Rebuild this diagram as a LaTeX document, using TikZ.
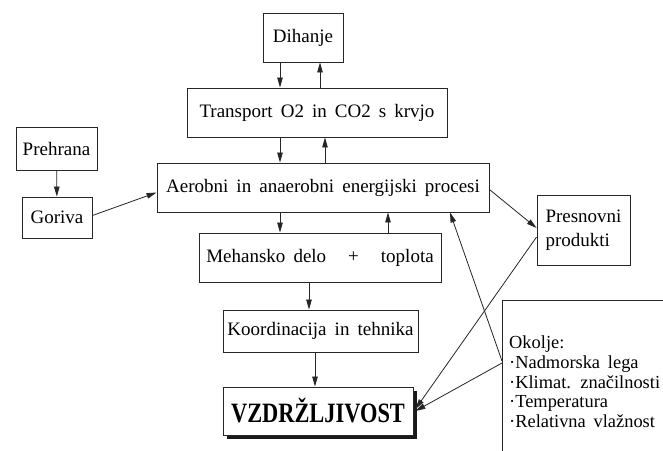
\documentclass[tikz,border=0pt]{standalone}
\usepackage{fontspec}
\setmainfont{Liberation Serif}[WordSpace=1.7]
\newfontfamily\titlefont{Liberation Serif}[FakeStretch=0.8]
\usetikzlibrary{arrows.meta,shadows,calc}

\begin{document}
\begin{tikzpicture}[x=1pt,y=-1pt,
  box/.style={draw=black!85, line width=0.9pt, fill=white, inner sep=0pt,
              font=\fontsize{19}{22}\selectfont},
  arr/.style={draw=black!85, line width=0.8pt, -{Triangle[length=10pt,width=5.5pt]}},
]
\fill[white] (0,0) rectangle (663,450);
\useasboundingbox (0,0) rectangle (663,450);
\clip (0,0) rectangle (663,450);

% boxes
\node[box, minimum width=80pt,  minimum height=49pt] (dih) at (303,37.5) {Dihanje};
\node[box, minimum width=260pt, minimum height=49pt] (tr)  at (317,112.5) {Transport O2 in CO2 s krvjo};
\node[box, minimum width=81pt,  minimum height=43pt] (preh) at (56.5,148.5) {Prehrana};
\node[box, minimum width=70pt,  minimum height=41pt] (gor) at (57,217.5) {Goriva};
\node[box, minimum width=332pt, minimum height=49pt] (aer) at (323,187.5) {Aerobni in anaerobni energijski procesi};
\node[box, minimum width=242pt, minimum height=49pt] (meh) at (320,257.5) {Mehansko delo\hspace{22pt}+\hspace{22pt}toplota};
\node[box, minimum width=195pt, minimum height=42pt] (koo) at (320.5,331) {Koordinacija in tehnika};
\node[box, minimum width=93pt,  minimum height=70pt, align=left] (pres) at (583.5,230) {Presnovni\\[2pt]produkti};
\node[box, drop shadow={shadow xshift=4pt, shadow yshift=-4pt, fill=black, opacity=0.9},
      minimum width=190pt, minimum height=48pt,
      font=\titlefont\bfseries\fontsize{28}{30}\selectfont] (vz) at (318,411) {VZDRŽLJIVOST};

% environment box, running past the right and lower edges
\node[box, anchor=north west, minimum width=180pt, minimum height=160pt] (env) at (502,300) {};
\node[anchor=north west, align=left, inner sep=0pt,
      font=\fontsize{18.4}{19.6}\selectfont] (envtext) at (509,336)
  {Okolje:\\·Nadmorska lega\\·Klimat. značilnosti\\·Temperatura\\·Relativna vlažnost};
\coordinate (envL) at ($(env.north west)+(0,61)$);

% connectors
\draw[arr] (dih.south -| 280,0) -- (tr.north -| 280,0);
\draw[arr] (tr.north -| 320,0) -- (dih.south -| 320,0);
\draw[arr] (tr.south -| 280,0) -- (aer.north -| 280,0);
\draw[arr] (aer.north -| 325,0) -- (tr.south -| 325,0);
\draw[arr] (preh) -- (gor);
\draw[arr] ([yshift=2pt]gor.east) -- ([yshift=-5pt]aer.west);
\draw[arr] (aer.south -| 280,0) -- (meh.north -| 280,0);
\draw[arr] (meh.north -| 388,0) -- (aer.south -| 388,0);
\draw[arr] (meh.south -| 309,0) -- (koo.north -| 309,0);
\draw[arr] (koo.south -| 315,0) -- (vz.north -| 315,0);
\draw[arr] ([yshift=-2pt]aer.east) -- ([yshift=2pt]pres.west);
\draw[arr] ([yshift=-7pt]pres.west) -- ([xshift=2pt,yshift=2pt]vz.east);
\draw[arr] (envL) -- (aer.south -| 450,0);
\draw[arr] ($(envL)+(0,2)$) -- ([xshift=2pt]vz.east);
\end{tikzpicture}
\end{document}
